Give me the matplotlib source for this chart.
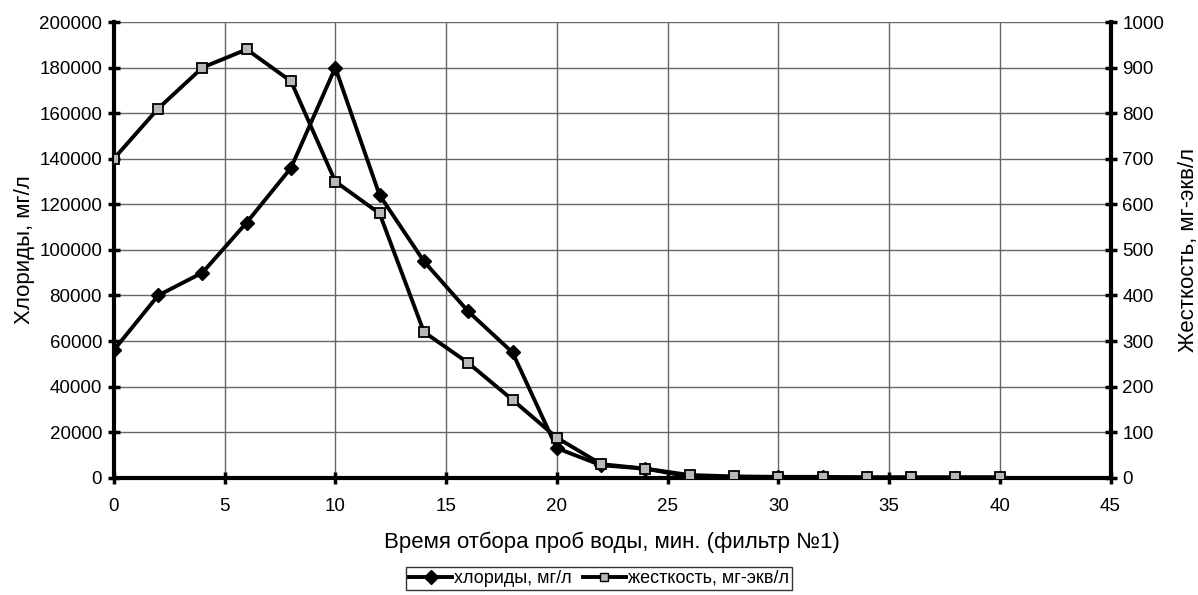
import numpy as np
import matplotlib
matplotlib.use('Agg')
import matplotlib.pyplot as plt
from matplotlib.lines import Line2D

plt.rcParams.update({
    'font.family': ['Liberation Sans', 'DejaVu Sans'],
    'font.size': 12,
})

# ── Data ──────────────────────────────────────────────────────────────────────
time_min = [0, 2, 4, 6, 8, 10, 12, 14, 16, 18, 20, 22, 24, 26, 28, 30, 32, 34, 36, 38, 40]
chlorides = [56000, 80000, 90000, 112000, 136000, 180000, 124000, 95000, 73000, 55000,
             13000, 5500, 4000, 500, 300, 200, 200, 100, 100, 100, 100]
hardness = [700, 810, 900, 940, 870, 650, 580, 320, 252, 171,
            88, 30, 20, 6, 3, 2, 2, 1, 1, 1, 1]

x_ticks = np.arange(0, 46, 5)
left_ticks = np.arange(0, 200001, 20000)
right_ticks = np.arange(0, 1001, 100)

fig = plt.figure(figsize=(11.98, 5.95), dpi=100)
ax = fig.add_axes([0.095, 0.197, 0.832, 0.766])
ax2 = ax.twinx()

ax.plot(time_min, chlorides, '-', color='black', linewidth=2.8,
        marker='D', markersize=7, markerfacecolor='black', markeredgecolor='black', zorder=3)
ax2.plot(time_min, hardness, '-', color='black', linewidth=2.8,
         marker='s', markersize=7, markerfacecolor='#b8b8b8', markeredgecolor='black',
         markeredgewidth=1.3, zorder=3)

ax.set_xlim(0, 45)
ax.set_ylim(0, 200000)
ax2.set_ylim(0, 1000)
ax.set_xticks(x_ticks)
ax.set_yticks(left_ticks)
ax2.set_yticks(right_ticks)

ax.grid(True, color='#666666', linewidth=1.0)
ax.set_axisbelow(True)

for a in (ax, ax2):
    a.spines['top'].set_visible(False)
    for s in ('left', 'right', 'bottom'):
        a.spines[s].set_linewidth(3)
    a.tick_params(direction='inout', length=9, width=2.5, labelsize=13.5)
ax.spines['right'].set_visible(False)
ax2.spines['left'].set_visible(False)
ax2.spines['bottom'].set_visible(False)
ax.tick_params(axis='x', pad=10)
ax.tick_params(axis='y', pad=4)
ax2.tick_params(axis='y', pad=4)

ax.set_xlabel('Время отбора проб воды, мин. (фильтр №1)', fontsize=16, labelpad=12)
ax.set_ylabel('Хлориды, мг/л', fontsize=16, labelpad=3)
ax2.set_ylabel('Жесткость, мг-экв/л', fontsize=16, labelpad=10)

handles = [
    Line2D([], [], color='black', linewidth=2.8, marker='D', markersize=7,
           markerfacecolor='black'),
    Line2D([], [], color='black', linewidth=2.8, marker='s', markersize=6,
           markerfacecolor='#b8b8b8', markeredgecolor='black'),
]
leg = fig.legend(handles, ['хлориды, мг/л', 'жесткость, мг-экв/л'],
                 loc='lower center', bbox_to_anchor=(0.5, 0.0), ncol=2,
                 frameon=True, fancybox=False, edgecolor='black', fontsize=13,
                 handlelength=2.4, handletextpad=0.1, columnspacing=0.6,
                 borderpad=0.15, borderaxespad=0.3)
leg.get_frame().set_linewidth(1.0)

fig.savefig('out.png', dpi=100)
